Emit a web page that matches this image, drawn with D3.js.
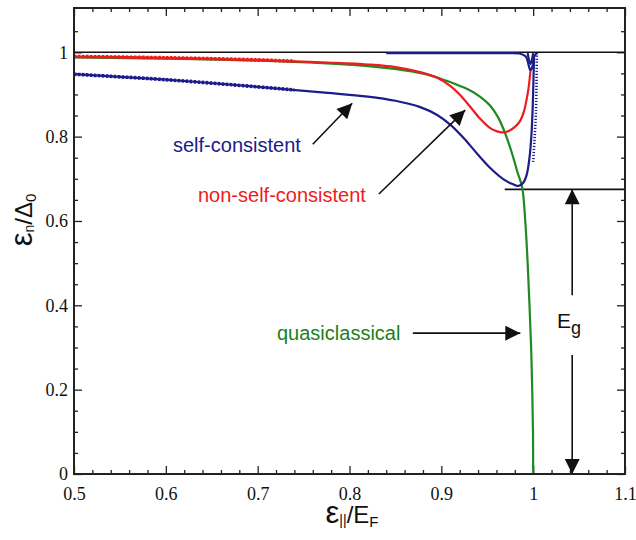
<!DOCTYPE html>
<html>
<head>
<meta charset="utf-8">
<script src="https://cdn.jsdelivr.net/npm/d3@7"></script>
<style>
  body { margin: 0; background: #fff; }
  svg { display: block; }
  .tick text { font-family: "Liberation Serif", "Times New Roman", serif !important; font-size: 18px !important; }
  .note { font-family: "Liberation Sans", Arial, sans-serif; font-size: 20px; }
</style>
</head>
<body>
<svg id="chart" width="636" height="540"></svg>
<script>
// tick values
const xTicks = [0.5, 0.6, 0.7, 0.8, 0.9, 1.0, 1.1];
const xTickLabels = ['0.5', '0.6', '0.7', '0.8', '0.9', '1', '1.1'];
const yTicks = [0, 0.2, 0.4, 0.6, 0.8, 1.0];
const yTickLabels = ['0', '0.2', '0.4', '0.6', '0.8', '1'];

// quasiclassical (green)
const quasiX = [0.5, 0.6, 0.7, 0.77, 0.82, 0.86, 0.885, 0.902, 0.915, 0.931, 0.942, 0.953, 0.962, 0.97, 0.977, 0.983, 0.988, 0.9914, 0.994, 0.996, 0.9978, 0.999, 0.9998, 1.0];
const quasiY = [0.988, 0.985, 0.98, 0.974, 0.967, 0.957, 0.947, 0.935, 0.925, 0.91, 0.895, 0.874, 0.845, 0.805, 0.76, 0.715, 0.68, 0.6, 0.5, 0.4, 0.3, 0.2, 0.1, 0.0];

// non-self-consistent (red)
const nscX = [0.5, 0.6, 0.7, 0.77, 0.82, 0.85, 0.877, 0.895, 0.91, 0.92, 0.931, 0.942, 0.952, 0.96, 0.967, 0.974, 0.981, 0.986, 0.99, 0.993, 0.995, 0.997];
const nscY = [0.99, 0.987, 0.982, 0.976, 0.971, 0.965, 0.953, 0.94, 0.92, 0.9, 0.872, 0.843, 0.822, 0.813, 0.81, 0.814, 0.825, 0.838, 0.86, 0.89, 0.915, 0.955];

// self-consistent (blue), lower branch
const scX = [0.5, 0.6, 0.7, 0.77, 0.82, 0.85, 0.877, 0.895, 0.91, 0.925, 0.94, 0.955, 0.967, 0.977, 0.984, 0.989, 0.993, 0.996, 0.998, 0.9995, 1.0005, 1.001];
const scY = [0.948, 0.935, 0.918, 0.905, 0.895, 0.885, 0.87, 0.852, 0.828, 0.795, 0.757, 0.722, 0.7, 0.688, 0.683, 0.69, 0.71, 0.75, 0.8, 0.87, 0.95, 0.99];

// self-consistent (blue), upper branch with notch
const scTopX = [0.84, 0.88, 0.92, 0.95, 0.97, 0.985, 0.992, 0.995, 0.997, 0.999, 1.001, 1.004];
const scTopY = [0.998, 0.998, 0.998, 0.998, 0.998, 0.997, 0.99, 0.97, 0.957, 0.965, 0.99, 0.998];
const scNotchX = [0.994, 0.997, 1.0];
const scNotchY = [0.998, 0.972, 0.998];

// self-consistent (blue), dotted vertical part
const scDotX = [1.0, 1.003, 1.004];
const scDotY = [0.74, 0.86, 1.0];

const eGap = 0.675;

const svg = d3.select('#chart'),
    m = { left: 74, right: 11, top: 8, bottom: 66 },
    W = 636 - m.left - m.right,
    H = 540 - m.top - m.bottom;

const x = d3.scaleLinear().domain([0.5, 1.1]).range([m.left, m.left + W]);
const y = d3.scaleLinear().domain([0, 1.105]).range([m.top + H, m.top]);

const g = svg.append('g');

// minor ticks
const xMinor = d3.range(0.52, 1.1, 0.02).filter(v => Math.abs(v * 10 - Math.round(v * 10)) > 1e-6);
const yMinor = d3.range(0.05, 1.1, 0.05).filter(v => Math.abs(v * 5 - Math.round(v * 5)) > 1e-6);

const axisStyle = sel => {
    sel.attr('font-family', 'Liberation Serif').attr('font-size', 18);
    sel.select('.domain').remove();
    sel.selectAll('.tick line').attr('stroke', '#222').attr('stroke-width', 1.3);
    sel.selectAll('.tick text').attr('fill', '#111');
};

g.append('g').attr('transform', 'translate(0,' + (m.top + H) + ')')
    .call(d3.axisBottom(x).tickValues(xTicks).tickSize(-8).tickPadding(13)
        .tickFormat((d, i) => xTickLabels[i]))
    .call(axisStyle);
g.append('g').attr('transform', 'translate(0,' + (m.top + H) + ')')
    .call(d3.axisBottom(x).tickValues(xMinor).tickSize(-4).tickFormat(''))
    .call(axisStyle);
g.append('g').attr('transform', 'translate(0,' + m.top + ')')
    .call(d3.axisTop(x).tickValues(xTicks).tickSize(-8).tickFormat(''))
    .call(axisStyle);
g.append('g').attr('transform', 'translate(0,' + m.top + ')')
    .call(d3.axisTop(x).tickValues(xMinor).tickSize(-4).tickFormat(''))
    .call(axisStyle);

g.append('g').attr('transform', 'translate(' + m.left + ',0)')
    .call(d3.axisLeft(y).tickValues(yTicks).tickSize(-8).tickPadding(6)
        .tickFormat((d, i) => yTickLabels[i]))
    .call(axisStyle);
g.append('g').attr('transform', 'translate(' + m.left + ',0)')
    .call(d3.axisLeft(y).tickValues(yMinor).tickSize(-4).tickFormat(''))
    .call(axisStyle);
g.append('g').attr('transform', 'translate(' + (m.left + W) + ',0)')
    .call(d3.axisRight(y).tickValues(yTicks).tickSize(-8).tickFormat(''))
    .call(axisStyle);
g.append('g').attr('transform', 'translate(' + (m.left + W) + ',0)')
    .call(d3.axisRight(y).tickValues(yMinor).tickSize(-4).tickFormat(''))
    .call(axisStyle);

// clip
const defs = svg.append('defs');
defs.append('clipPath').attr('id', 'plot')
    .append('rect').attr('x', m.left).attr('y', m.top).attr('width', W).attr('height', H);
defs.append('clipPath').attr('id', 'wiggle')
    .append('rect').attr('x', m.left).attr('y', m.top).attr('width', x(0.74) - m.left).attr('height', H);

// arrowhead
defs.append('marker').attr('id', 'head')
    .attr('viewBox', '0 0 10 10').attr('refX', 10).attr('refY', 5)
    .attr('markerWidth', 18).attr('markerHeight', 15).attr('markerUnits', 'userSpaceOnUse')
    .attr('orient', 'auto')
    .append('path').attr('d', 'M0,0L10,5L0,10Z').attr('fill', '#111');

const plot = svg.append('g').attr('clip-path', 'url(#plot)');

// reference lines
plot.append('line').attr('x1', x(0.5)).attr('x2', x(1.1)).attr('y1', y(1)).attr('y2', y(1))
    .attr('stroke', '#111').attr('stroke-width', 1.6);
plot.append('line').attr('x1', x(0.969)).attr('x2', x(1.1)).attr('y1', y(eGap)).attr('y2', y(eGap))
    .attr('stroke', '#111').attr('stroke-width', 1.6);

const line = d3.line().x(d => x(d[0])).y(d => y(d[1])).curve(d3.curveCatmullRom.alpha(0.5));
const zip = (a, b) => a.map((v, i) => [v, b[i]]);

const series = [
    { id: 'quasi', data: zip(quasiX, quasiY), color: '#1f8a22' },
    { id: 'nsc', data: zip(nscX, nscY), color: '#ee1c1c' },
    { id: 'sc', data: zip(scX, scY), color: '#1c1c8a' },
    { id: 'scTop', data: zip(scTopX, scTopY), color: '#1c1c8a' },
    { id: 'scNotch', data: zip(scNotchX, scNotchY), color: '#1c1c8a' }
];

plot.selectAll('path.curve').data(series).enter()
    .append('path').attr('class', 'curve')
    .attr('d', d => line(d.data))
    .attr('fill', 'none')
    .attr('stroke', d => d.color)
    .attr('stroke-width', 2.2);

// thicker wiggly-looking left part of red and blue
const wig = svg.append('g').attr('clip-path', 'url(#wiggle)');
wig.selectAll('path').data([series[1], series[2]]).enter()
    .append('path')
    .attr('d', d => line(d.data))
    .attr('fill', 'none')
    .attr('stroke', d => d.color)
    .attr('stroke-width', 3.6)
    .attr('stroke-dasharray', '2.5,1.5');

plot.append('path').attr('d', line(zip(scDotX, scDotY)))
    .attr('fill', 'none').attr('stroke', '#1c1c8a')
    .attr('stroke-width', 2.6).attr('stroke-dasharray', '1.2,1.8');

// frame
svg.append('rect').attr('x', m.left).attr('y', m.top).attr('width', W).attr('height', H)
    .attr('fill', 'none').attr('stroke', '#222').attr('stroke-width', 2);

// annotation arrows
const arrows = [
    [0.760, 0.782, 0.803, 0.879],
    [0.832, 0.664, 0.926, 0.863],
    [0.869, 0.334, 0.986, 0.334],
    [1.0425, 0.424, 1.0425, eGap],
    [1.0425, 0.282, 1.0425, 0.0]
];
svg.selectAll('line.arrow').data(arrows).enter()
    .append('line').attr('class', 'arrow')
    .attr('x1', d => x(d[0])).attr('y1', d => y(d[1]))
    .attr('x2', d => x(d[2])).attr('y2', d => y(d[3]))
    .attr('stroke', '#111').attr('stroke-width', 1.6)
    .attr('marker-end', 'url(#head)');

// annotation labels
svg.append('text').attr('class', 'note').attr('x', 173).attr('y', 152)
    .attr('fill', '#1c1c8a').text('self-consistent');
svg.append('text').attr('class', 'note').attr('x', 198).attr('y', 202)
    .attr('fill', '#ee1c1c').text('non-self-consistent');
svg.append('text').attr('class', 'note').attr('x', 277).attr('y', 340)
    .attr('fill', '#1d7f20').text('quasiclassical');

const eg = svg.append('text').attr('x', 557).attr('y', 328)
    .attr('font-family', 'Liberation Sans, Arial, sans-serif').attr('font-size', 21).attr('fill', '#111');
eg.append('tspan').text('E');
eg.append('tspan').attr('font-size', 18).attr('dy', 6).text('g');

// axis titles
const xt = svg.append('text').attr('x', 352).attr('y', 523).attr('text-anchor', 'middle')
    .attr('font-family', 'Liberation Sans, Arial, sans-serif').attr('fill', '#111');
xt.append('tspan').attr('font-size', 31).text('ε');
xt.append('tspan').attr('font-size', 14).attr('dy', 2).text('||');
xt.append('tspan').attr('font-size', 24).attr('dy', -2).text('/E');
xt.append('tspan').attr('font-size', 15).attr('dy', 4).text('F');

const yt = svg.append('text').attr('transform', 'translate(32,220) rotate(-90)')
    .attr('text-anchor', 'middle')
    .attr('font-family', 'Liberation Sans, Arial, sans-serif').attr('fill', '#111');
yt.append('tspan').attr('font-size', 31).text('ε');
yt.append('tspan').attr('font-size', 14).attr('dy', 2).text('n');
yt.append('tspan').attr('font-size', 24).attr('dy', -2).text('/Δ');
yt.append('tspan').attr('font-size', 15).attr('dy', 4).text('0');
</script>
</body>
</html>
